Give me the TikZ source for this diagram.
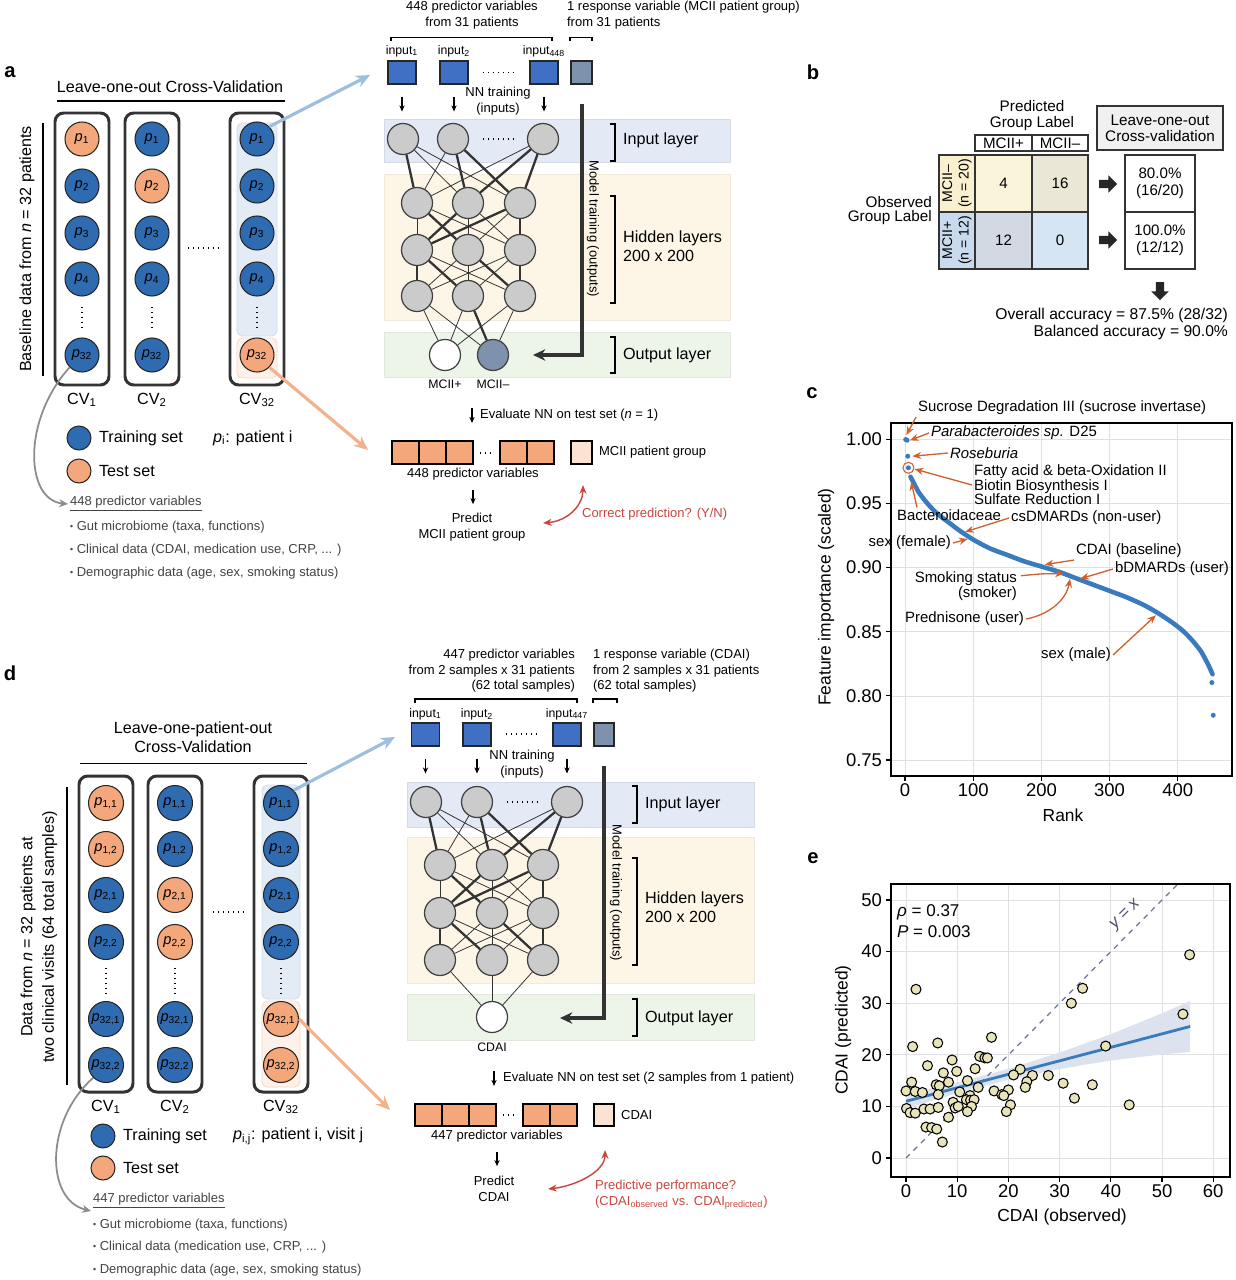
\documentclass[tikz,border=0pt]{standalone}
\usepackage{fontspec}
\setmainfont{Liberation Sans}
\usetikzlibrary{arrows.meta,shapes.arrows,calc}

\definecolor{trainblue}{HTML}{2F6BB1}
\definecolor{testorange}{HTML}{F3A77B}
\definecolor{sqblue}{HTML}{3F70C3}
\definecolor{respgray}{HTML}{7E91AD}
\definecolor{peach}{HTML}{FBE3D3}
\definecolor{nngray}{HTML}{CBCBCB}
\definecolor{bandblue}{HTML}{E3EAF6}
\definecolor{bandyellow}{HTML}{FDF6E6}
\definecolor{bandgreen}{HTML}{EDF4E8}
\definecolor{cvblue}{HTML}{E3EBF5}
\definecolor{cvorange}{HTML}{FDF1E9}
\definecolor{linkblue}{HTML}{9CBFE0}
\definecolor{linkorange}{HTML}{F2B28C}
\definecolor{evalred}{HTML}{C9463E}
\definecolor{annorange}{HTML}{D0602E}
\definecolor{plotblue}{HTML}{3A7BBD}
\definecolor{gridgray}{HTML}{E0E0E0}
\definecolor{dotfill}{HTML}{E8E4BA}
\definecolor{ciband}{HTML}{DDE3EE}
\definecolor{yxgray}{HTML}{6D7398}
\definecolor{cellyellow}{HTML}{F8F0CE}
\definecolor{cellpale}{HTML}{FAF4DA}
\definecolor{cellbeige}{HTML}{EBE7D6}
\definecolor{cellblue}{HTML}{CADAED}
\definecolor{cellslate}{HTML}{D3D9E3}
\definecolor{cellsky}{HTML}{D6E5F3}
\definecolor{textgray}{HTML}{444444}

\newcommand\fsz[2]{\fontsize{#1}{#2}\selectfont}
\newcommand\pvar[1]{\textit{p}\textsubscript{#1}}
\newcommand\bul{\raisebox{0.6pt}{\fsz{5}{6}\textbullet}\ }

\begin{document}
\begin{tikzpicture}[x=0.02cm, y=-0.02cm,
    txt/.style={font=\fsz{9.2}{10.6}, inner sep=1pt},
    small/.style={font=\fsz{7.4}{8.8}, inner sep=1pt},
    letter/.style={font=\fsz{11.5}{13}\bfseries, inner sep=0pt},
    patient/.style={circle, draw=black!85, line width=0.6pt, minimum size=0.68cm, inner sep=0pt, font=\fsz{8.3}{9}},
    train/.style={patient, fill=trainblue},
    test/.style={patient, fill=testorange},
    cvbox/.style={draw=black!80, line width=1.7pt, rounded corners=5pt},
    neuron/.style={circle, draw=black!75, fill=nngray, line width=0.7pt, minimum size=0.62cm, inner sep=0pt},
    invar/.style={draw=black!85, fill=sqblue, line width=0.6pt, minimum width=0.56cm, minimum height=0.46cm, inner sep=0pt},
    link/.style={line width=0.45pt, black!80},
    boldlink/.style={line width=1.3pt, black!80},
    downarr/.style={line width=0.6pt, -{Stealth[length=3.5pt, width=3pt]}},
    trainarr/.style={line width=2pt, black!80, -{Stealth[length=7pt, width=6.5pt]}},
    redarr/.style={evalred, line width=0.8pt, {Stealth[length=5pt, width=4pt]}-{Stealth[length=5pt, width=4pt]}},
    cell/.style={draw=black!80, line width=0.6pt, minimum width=1.14cm, minimum height=1.14cm, inner sep=0pt, font=\fsz{8.6}{9.5}},
    tb/.style={font=\fsz{8.7}{9.2}, inner sep=1pt},
    blockarr/.style={single arrow, fill=black!85, inner sep=2.2pt, minimum height=0.36cm, single arrow head extend=0.09cm, single arrow head indent=0pt},
    ann/.style={font=\fsz{8.5}{9.5}, inner sep=1pt},
    annarr/.style={annorange, line width=0.75pt, -{Stealth[length=5pt, width=4pt]}},
    ticklab/.style={font=\fsz{10.5}{12}, inner sep=1pt},
    axlab/.style={font=\fsz{9.9}{11}, inner sep=1pt},
    gridln/.style={gridgray, line width=0.5pt},
    bandbox/.style={line width=0.4pt},
  ]
\fill[white] (0,0) rectangle (1235,1280);
\useasboundingbox (0,0) rectangle (1235,1280);

%% ---------- a: leave-one-out scheme ----------
\node[letter] at (10,72) {a};
\node[txt] at (170,87) {Leave-one-out Cross-Validation};
\draw[line width=0.7pt] (57,101) -- (285,101);
\draw[line width=0.7pt] (43,123) -- (43,376);
\node[txt, rotate=90] at (27,249) {Baseline data from \textit{n} = 32 patients};
\filldraw[fill=cvblue, draw=linkblue!50, rounded corners=3pt, line width=0.5pt] (237,123) rectangle (277,336);
\filldraw[fill=cvorange, draw=linkorange!50, rounded corners=3pt, line width=0.5pt] (237,338) rectangle (277,378);
\foreach \col/\x/\tst/\cv in {1/82/1/1, 2/152/2/2, 3/257/5/32}{
  \draw[cvbox] (\x-27,113) rectangle (\x+27,385);
  \foreach \row/\y/\lab in {1/139/1, 2/186/2, 3/233/3, 4/279/4, 5/355/32}{
    \ifnum\row=\tst\relax \def\kind{test}\else \def\kind{train}\fi
    \node[\kind] (a\col-\row) at (\x,\y) {\pvar{\lab}};
  }
  \draw[dotted, line width=0.8pt] (\x,307) -- (\x,330);
  \node[txt] (acv\col) at (\x,400) {CV\textsubscript{\cv}};
}
\draw[dotted, line width=0.8pt] (188,248) -- (218,248);

\node[train, minimum size=0.48cm] (alegtr) at (79,438) {};
\node[txt, anchor=west] at (97,438) {Training set};
\node[txt, anchor=west] at (211,438) {\pvar{i}: patient i};
\node[test, minimum size=0.48cm] (alegts) at (79,471) {};
\node[txt, anchor=west] at (97,471) {Test set};

\node[small, anchor=west, textgray] (avarlist) at (68,504) {\underline{448 predictor variables}};
\node[small, anchor=west, textgray] at (68,527) {\bul Gut microbiome (taxa, functions)};
\node[small, anchor=west, textgray] at (68,550) {\bul Clinical data (CDAI, medication use, CRP, ... )};
\node[small, anchor=west, textgray] at (68,573) {\bul Demographic data (age, sex, smoking status)};
\draw[black!45, line width=1pt, -{Stealth[length=5pt, width=4.5pt]}] (a1-5.south west) .. controls (22,420) and (25,500) .. (avarlist.west);

\coordinate (ablue) at (370,75);
\coordinate (aorange) at (368,450);
\draw[linkblue, line width=1.8pt, -{Stealth[length=8pt, width=7pt]}] (a3-1.north east) -- (ablue);
\draw[linkorange, line width=1.8pt, -{Stealth[length=8pt, width=7pt]}] (a3-5.south east) -- (aorange);

%% ---------- a: network ----------
\node[small, align=center] at (472,15) {448 predictor variables\\from 31 patients};
\node[small, align=left, anchor=west] at (565,15) {1 response variable (MCII patient group)\\from 31 patients};
\draw[line width=0.6pt] (391,41) -- (391,37.5) -- (552,37.5) -- (552,41);
\draw[line width=0.6pt] (570,41) -- (570,37.5) -- (592,37.5) -- (592,41);
\foreach \k/\x/\s in {1/402/1, 2/454/2, 3/544/448}{
  \node[invar] (ain\k) at (\x,72.5) {};
  \node[small, font=\fsz{7}{8}] at (\x,51) {input\textsubscript{\s}};
  \draw[downarr] ($(ain\k.south)+(0,12)$) -- ++(0,15);
}
\node[invar, fill=respgray, minimum width=0.42cm] (aresp) at (581.5,72.5) {};
\draw[dotted, line width=0.8pt] (483,72.5) -- (513,72.5);
\node[small, align=center] at (498,101) {NN training\\(inputs)};

\filldraw[bandbox, fill=bandblue, draw=bandblue!85!gray] (384,119) rectangle (730,162);
\filldraw[bandbox, fill=bandyellow, draw=bandyellow!90!gray] (384,174) rectangle (730,320);
\filldraw[bandbox, fill=bandgreen, draw=bandgreen!90!gray] (384,332) rectangle (730,377);

\foreach \k/\x in {1/403, 2/453, 3/543} \node[neuron] (ani\k) at (\x,139) {};
\draw[dotted, line width=0.8pt] (483,139) -- (513,139);
\foreach \lay/\y in {1/203, 2/250, 3/296}
  \foreach \k/\x in {1/417, 2/468, 3/520}
    \node[neuron] (anh\lay\k) at (\x,\y) {};
\node[neuron, fill=white] (ano1) at (445,355) {};
\node[neuron, fill=respgray] (ano2) at (493,355) {};
\foreach \i in {1,2,3}{
  \foreach \j in {1,2,3}{
    \draw[link] (ani\i) -- (anh1\j);
    \draw[link] (anh1\i) -- (anh2\j);
    \draw[link] (anh2\i) -- (anh3\j);
  }
  \draw[link] (anh3\i) -- (ano1);
  \draw[link] (anh3\i) -- (ano2);
}
\foreach \p/\q in {ani1/anh11, ani2/anh12, ani2/anh13, ani3/anh13, ani3/anh12,
                   anh11/anh22, anh13/anh23, anh12/anh21, anh13/anh21,
                   anh21/anh31, anh23/anh33, anh21/anh32, anh22/anh33, anh32/ano2}
  \draw[boldlink] (\p) -- (\q);
\node[small, font=\fsz{7}{8}] at (445,384) {MCII+};
\node[small, font=\fsz{7}{8}] at (493,384) {MCII--};

\foreach \t/\b in {124/161, 196/303, 337/373}
  \draw[line width=0.8pt] (610,\t) -- (615,\t) -- (615,\b) -- (610,\b);
\node[txt, anchor=west] at (621,140) {Input layer};
\node[txt, anchor=west, align=left] at (621,246) {Hidden layers\\200 x 200};
\node[txt, anchor=west] at (621,355) {Output layer};

\coordinate (amt) at (582,104);
\coordinate (amtend) at (533,355);
\draw[trainarr] (amt) |- (amtend);
\node[small, rotate=-90] at (593,229) {Model training (outputs)};

\node[small, anchor=west] (aeval) at (478,415) {Evaluate NN on test set (\textit{n} = 1)};
\draw[downarr] ($(aeval.west)+(-6,-7)$) -- ++(0,15);
\foreach \x in {392,419,446,500,527}
  \draw[line width=0.7pt, fill=testorange] (\x,441) rectangle ++(27,23);
\draw[dotted, line width=0.8pt] (480,453) -- (494,453);
\node[draw, line width=0.7pt, fill=peach, minimum width=0.42cm, minimum height=0.46cm, inner sep=0pt] (aobs) at (581.5,452.5) {};
\node[small, anchor=west] at (597,452) {MCII patient group};
\node[small] (avars) at (473,474) {448 predictor variables};
\draw[downarr] ($(avars.south)+(0,8)$) -- ++(0,14);
\node[small, align=center] (apred) at (472,527) {Predict\\MCII patient group};
\coordinate (ared1) at (543,523);
\coordinate (ared2) at (583,485);
\draw[redarr] (ared1) .. controls (568,521) and (583,505) .. (ared2);
\node[small, anchor=west, evalred] at (580,514) {Correct prediction? (Y/N)};

%% ---------- b: confusion table ----------
\node[letter] at (813,72) {b};
\node[tb, align=center] at (1032,115.5) {Predicted\\Group Label};
\node[tb, align=right, anchor=east, font=\fsz{8.7}{7.8}] at (934,210.5) {Observed\\Group Label};
\node[cell, minimum height=0.32cm] (bh1) at (1003.5,143) {MCII+};
\node[cell, minimum height=0.32cm, minimum width=1.12cm] (bh2) at (1060,143) {MCII--};
\node[cell, fill=cellyellow, rotate=90, minimum height=0.72cm, align=center, font=\fsz{8}{9.4}] (br1) at (957,183.5) {MCII--\\(n = 20)};
\node[cell, fill=cellblue, rotate=90, minimum height=0.72cm, align=center, font=\fsz{8}{9.4}] (br2) at (957,240.5) {MCII+\\(n = 12)};
\node[cell, fill=cellpale] (b11) at (1003.5,183.5) {4};
\node[cell, fill=cellbeige, minimum width=1.12cm] (b12) at (1060,183.5) {16};
\node[cell, fill=cellslate] (b21) at (1003.5,240.5) {12};
\node[cell, fill=cellsky, minimum width=1.12cm] (b22) at (1060,240.5) {0};
\node[tb, draw=black!80, line width=0.9pt, fill=black!6, align=center, minimum width=2.52cm, minimum height=0.88cm] (bloo) at (1160,128) {Leave-one-out\\Cross-validation};
\node[cell, line width=0.9pt, minimum width=1.4cm, align=center] (bres1) at (1160,183.5) {80.0\%\\(16/20)};
\node[cell, line width=0.9pt, minimum width=1.4cm, align=center] (bres2) at (1160,240.5) {100.0\%\\(12/12)};
\node[blockarr] (barr1) at (1106,184) {};
\node[blockarr] (barr2) at (1106,240) {};
\node[blockarr, shape border rotate=270] (barr3) at (1160,289) {};
\node[tb, align=right, anchor=east, font=\fsz{8.9}{9.7}] at (1230,323.5) {Overall accuracy = 87.5\% (28/32)\\Balanced accuracy = 90.0\%};

%% ---------- c: feature importance ----------
\node[letter] at (812,393) {c};
\begin{scope}[shift={(905,1721.9)}, x=0.01364cm, y=25.652cm]
  \foreach \v in {0.75,0.8,0.85,0.9,0.95,1} \draw[gridln] (-20.5,\v) -- (479.5,\v);
  \foreach \r in {0,100,200,300,400} \draw[gridln] (\r,0.7375) -- (\r,1.0127);
  \draw[plotblue, line width=2.6pt, line cap=round, line join=round] plot[smooth] coordinates {
    (8,0.971) (12,0.967) (20,0.959) (30,0.952) (40,0.946) (50,0.941) (65,0.935) (80,0.929)
    (100,0.922) (125,0.915) (150,0.910) (175,0.905) (200,0.901) (225,0.897) (250,0.892)
    (275,0.887) (300,0.882) (325,0.877) (350,0.871) (370,0.865) (390,0.858) (405,0.852)
    (415,0.847) (425,0.841) (435,0.834) (445,0.824) (451,0.817)};
  \foreach \r/\v in {1/1.0, 3/0.9995, 4/0.987, 5/0.978, 450/0.8105, 452/0.785}
    \fill[plotblue] (\r,\v) circle[radius=0.05cm];
  \draw[annorange, line width=0.6pt] (5,0.978) circle[radius=0.11cm];
  \coordinate (tsuc) at (2,1.0035);
  \coordinate (tpar) at (7,0.9993);
  \coordinate (tros) at (11,0.987);
  \coordinate (tfat) at (14,0.977);
  \coordinate (tbac) at (9,0.967);
  \coordinate (tcs) at (88,0.928);
  \coordinate (tsf) at (92,0.9225);
  \coordinate (tcd) at (205,0.9025);
  \coordinate (tbd) at (257,0.8915);
  \coordinate (tsm) at (233,0.8955);
  \coordinate (tpr) at (242,0.8915);
  \coordinate (tsx) at (368,0.863);
\end{scope}
\draw[line width=0.9pt] (891,423) rectangle (1232,776);
\foreach \x/\r in {905/0, 973.2/100, 1041.4/200, 1109.6/300, 1177.8/400}{
  \draw[line width=0.6pt] (\x,776) -- (\x,781);
  \node[ticklab] at (\x,790) {\r};
}
\foreach \y/\v in {439.3/1.00, 503.4/0.95, 567.5/0.90, 631.7/0.85, 695.8/0.80, 760/0.75}{
  \draw[line width=0.6pt] (886,\y) -- (891,\y);
  \node[ticklab, anchor=east] at (884,\y) {\v};
}
\node[axlab] at (1063,815) {Rank};
\node[axlab, rotate=90] at (826,597) {Feature importance (scaled)};

\node[ann, anchor=west] (lsuc) at (916,408) {Sucrose Degradation III (sucrose invertase)};
\node[ann, anchor=west] (lpar) at (929,433) {\textit{Parabacteroides sp.} D25};
\node[ann, anchor=west] (lros) at (948,453) {\textit{Roseburia}};
\node[ann, anchor=west, align=left, font=\fsz{8.5}{8.2}] (lfat) at (972,485) {Fatty acid \& beta-Oxidation II\\Biotin Biosynthesis I\\Sulfate Reduction I};
\node[ann, anchor=west] (lbac) at (895,515) {Bacteroidaceae};
\node[ann, anchor=west] (lcs) at (1009,518) {csDMARDs (non-user)};
\node[ann, anchor=east] (lsf) at (953,543) {sex (female)};
\node[ann, anchor=west] (lcd) at (1074,551) {CDAI (baseline)};
\node[ann, anchor=west] (lbd) at (1113,569) {bDMARDs (user)};
\node[ann, anchor=east, align=right, font=\fsz{8.5}{8.2}] (lsm) at (1019,586) {Smoking status\\(smoker)};
\node[ann, anchor=east] (lpr) at (1026,619) {Prednisone (user)};
\node[ann, anchor=east] (lsx) at (1113,655) {sex (male)};
\draw[annarr] (lsuc.south west) -- (tsuc);
\draw[annarr] (lpar.west) -- (tpar);
\draw[annarr] (lros.west) -- (tros);
\draw[annarr] (lfat.west) -- (tfat);
\draw[annarr] ($(lbac.north west)+(22,0)$) -- (tbac);
\draw[annarr] (lcs.west) -- (tcs);
\draw[annarr] (lsf.east) -- (tsf);
\draw[annarr] (lcd.south west) -- (tcd);
\draw[annarr] (lbd.west) -- (tbd);
\draw[annarr] ($(lsm.north east)+(2,6)$) .. controls ($(lsm.north east)+(22,4)$) .. (tsm);
\draw[annarr] (lpr.east) .. controls ($(lpr.east)+(22,-4)$) and ($(tpr)+(-4,22)$) .. (tpr);
\draw[annarr] (lsx.east) -- (tsx);

%% ---------- d: leave-one-patient-out scheme ----------
\node[letter] at (10,673) {d};
\node[txt, align=center] at (193,737) {Leave-one-patient-out\\Cross-Validation};
\draw[line width=0.7pt] (80,763.6) -- (307,763.6);
\draw[line width=0.7pt] (67,787) -- (67,1085);
\node[txt, rotate=90, align=center, font=\fsz{9.2}{12.3}] at (39,937) {Data from \textit{n} = 32 patients at\\two clinical visits (64 total samples)};
\filldraw[fill=cvblue, draw=linkblue!50, rounded corners=3pt, line width=0.5pt] (262,785) rectangle (300,999);
\filldraw[fill=cvorange, draw=linkorange!50, rounded corners=3pt, line width=0.5pt] (262,1001) rectangle (300,1087);
\foreach \col/\x/\cv in {1/106/1, 2/175/2, 3/281/32}{
  \draw[cvbox] (\x-27,776) rectangle (\x+27,1092);
  \foreach \row/\y/\lab/\grp in {1/803/{1,1}/1, 2/849/{1,2}/1, 3/895/{2,1}/2, 4/942/{2,2}/2, 5/1019/{32,1}/3, 6/1065/{32,2}/3}{
    \ifnum\grp=\col\relax \def\kind{test}\else \def\kind{train}\fi
    \node[\kind, minimum size=0.7cm] (d\col-\row) at (\x,\y) {\pvar{\lab}};
  }
  \draw[dotted, line width=0.8pt] (\x,968) -- (\x,996);
  \node[txt] (dcv\col) at (\x,1107) {CV\textsubscript{\cv}};
}
\draw[dotted, line width=0.8pt] (213,912) -- (243,912);

\node[train, minimum size=0.48cm] (dlegtr) at (103,1136) {};
\node[txt, anchor=west] at (121,1136) {Training set};
\node[txt, anchor=west] at (231,1136) {\pvar{i,j}: patient i, visit j};
\node[test, minimum size=0.48cm] (dlegts) at (103,1168) {};
\node[txt, anchor=west] at (121,1168) {Test set};

\node[small, anchor=west, textgray] (dvarlist) at (91,1201) {\underline{447 predictor variables}};
\node[small, anchor=west, textgray] at (91,1225) {\bul Gut microbiome (taxa, functions)};
\node[small, anchor=west, textgray] at (91,1247) {\bul Clinical data (medication use, CRP, ... )};
\node[small, anchor=west, textgray] at (91,1270) {\bul Demographic data (age, sex, smoking status)};
\draw[black!45, line width=1pt, -{Stealth[length=5pt, width=4.5pt]}] (d1-6.south west) .. controls (45,1120) and (45,1200) .. (dvarlist.south west);

\coordinate (dblue) at (395,737);
\coordinate (dorange) at (390,1110);
\draw[linkblue, line width=1.8pt, -{Stealth[length=8pt, width=7pt]}] (d3-1.north east) -- (dblue);
\draw[linkorange, line width=1.8pt, -{Stealth[length=8pt, width=7pt]}] (d3-5.east) -- (dorange);

%% ---------- d: network ----------
\node[small, align=right, anchor=east] at (577,671) {447 predictor variables\\from 2 samples x 31 patients\\(62 total samples)};
\node[small, align=left, anchor=west] at (591,671) {1 response variable (CDAI)\\from 2 samples x 31 patients\\(62 total samples)};
\draw[line width=0.6pt] (415,703) -- (415,699) -- (577,699) -- (577,703);
\draw[line width=0.6pt] (593,703) -- (593,699) -- (617,699) -- (617,703);
\foreach \k/\x/\s in {1/425.5/1, 2/477/2, 3/567/447}{
  \node[invar] (din\k) at (\x,734.5) {};
  \node[small, font=\fsz{7}{8}] at (\x,714) {input\textsubscript{\s}};
  \draw[downarr] ($(din\k.south)+(0,12)$) -- ++(0,15);
}
\node[invar, fill=respgray, minimum width=0.4cm] (dresp) at (604,734.5) {};
\draw[dotted, line width=0.8pt] (506,734) -- (537,734);
\node[small, align=center] at (522,764) {NN training\\(inputs)};

\filldraw[bandbox, fill=bandblue, draw=bandblue!85!gray] (407,782) rectangle (754,827);
\filldraw[bandbox, fill=bandyellow, draw=bandyellow!90!gray] (407,837) rectangle (754,983);
\filldraw[bandbox, fill=bandgreen, draw=bandgreen!90!gray] (407,994) rectangle (754,1040);

\foreach \k/\x in {1/426, 2/477, 3/567} \node[neuron] (dni\k) at (\x,802) {};
\draw[dotted, line width=0.8pt] (507,802) -- (537,802);
\foreach \lay/\y in {1/865, 2/913, 3/960}
  \foreach \k/\x in {1/440, 2/492, 3/543}
    \node[neuron] (dnh\lay\k) at (\x,\y) {};
\node[neuron, fill=white] (dno) at (492,1017) {};
\foreach \i in {1,2,3}{
  \foreach \j in {1,2,3}{
    \draw[link] (dni\i) -- (dnh1\j);
    \draw[link] (dnh1\i) -- (dnh2\j);
    \draw[link] (dnh2\i) -- (dnh3\j);
  }
  \draw[link] (dnh3\i) -- (dno);
}
\foreach \p/\q in {dni1/dnh11, dni2/dnh12, dni2/dnh13, dni3/dnh13, dni3/dnh12,
                   dnh11/dnh22, dnh13/dnh23, dnh12/dnh21, dnh13/dnh21,
                   dnh21/dnh31, dnh23/dnh33, dnh21/dnh32, dnh22/dnh33}
  \draw[boldlink] (\p) -- (\q);
\node[small, font=\fsz{7}{8}] at (492,1047) {CDAI};

\foreach \t/\b in {786/823, 858/965, 999/1036}
  \draw[line width=0.8pt] (632,\t) -- (637,\t) -- (637,\b) -- (632,\b);
\node[txt, anchor=west] at (643,804) {Input layer};
\node[txt, anchor=west, align=left] at (643,907.5) {Hidden layers\\200 x 200};
\node[txt, anchor=west] at (643,1018) {Output layer};

\coordinate (dmt) at (604,766);
\coordinate (dmtend) at (560,1018);
\draw[trainarr] (dmt) |- (dmtend);
\node[small, rotate=-90] at (616,893) {Model training (outputs)};

\node[small, anchor=west] (deval) at (501,1078) {Evaluate NN on test set (2 samples from 1 patient)};
\draw[downarr] ($(deval.west)+(-7,-7)$) -- ++(0,15);
\foreach \x in {415,442,469,523,550}
  \draw[line width=0.7pt, fill=testorange] (\x,1104) rectangle ++(27,22);
\draw[dotted, line width=0.8pt] (503,1115) -- (517,1115);
\node[draw, line width=0.7pt, fill=peach, minimum width=0.4cm, minimum height=0.44cm, inner sep=0pt] (dobs) at (604,1115) {};
\node[small, anchor=west] at (619,1115) {CDAI};
\node[small] (dvars) at (497,1136) {447 predictor variables};
\draw[downarr] ($(dvars.south)+(0,8)$) -- ++(0,14);
\node[small, align=center] (dpred) at (494,1189) {Predict\\CDAI};
\coordinate (dred1) at (548,1189);
\coordinate (dred2) at (605,1150);
\draw[redarr] (dred1) .. controls (575,1186) and (605,1172) .. (dred2);
\node[small, anchor=west, evalred, align=left] at (593,1195) {Predictive performance?\\(CDAI\textsubscript{observed} vs. CDAI\textsubscript{predicted})};

%% ---------- e: observed vs predicted ----------
\node[letter] at (813,858) {e};
\begin{scope}[shift={(906,1158)}, x=0.1024cm, y=0.1032cm]
  \foreach \g in {0,10,...,60} \draw[gridln] (\g,-3.68) -- (\g,53.1);
  \foreach \g in {0,10,...,50} \draw[gridln] (-2.93,\g) -- (63.3,\g);
  \fill[ciband] (0,12.45) -- (5,13.50) -- (10,14.65) -- (14,15.66) -- (20,17.31) -- (30,20.43)
    -- (40,24.00) -- (50,28.05) -- (55.5,30.46) -- (55.5,20.54) -- (50,20.09) -- (40,18.90)
    -- (30,17.25) -- (20,15.15) -- (14,13.66) -- (10,12.57) -- (5,11.12) -- (0,9.55) -- cycle;
  \draw[yxgray, dashed, line width=0.7pt] (0,0) -- (53,53);
  \node[yxgray!70!black, rotate=45, font=\fsz{9.7}{11}\itshape, inner sep=0pt] (yxlab) at (42.9,47.1) {y\kern2.5pt=\kern2.5pt x};
  \draw[plotblue, line width=1.6pt] (0,11) -- (55.5,25.5);
  \foreach \px/\py in {55.4/39.4, 1.95/32.7, 34.5/32.9, 32.3/30.0, 54.1/27.9, 16.7/23.4, 6.2/22.3,
      1.3/21.6, 39.0/21.7, 14.4/19.7, 15.4/19.4, 15.9/19.4, 9.0/19.0, 4.2/17.9, 13.5/17.3,
      22.3/17.2, 9.9/16.8, 7.3/16.5, 21.0/16.1, 24.7/16.0, 27.8/16.0, 1.1/14.7, 8.3/14.7,
      12.0/15.0, 23.6/14.8, 30.7/14.5, 36.4/14.2, 5.9/14.2, 6.5/14.0, 23.3/13.7, 14.1/13.7,
      0/13.0, 1.8/12.9, 3.2/12.7, 6.3/12.3, 10.5/12.8, 17.2/13.0, 20.0/13.2, 12.5/12.1,
      18.7/12.3, 19.1/12.1, 11.8/11.3, 12.6/11.2, 13.3/11.3, 32.9/11.6, 9.2/10.8, 20.4/10.3,
      43.6/10.3, 0.1/9.6, 3.5/9.5, 4.7/9.5, 6.3/9.8, 9.6/9.7, 10.2/10.0, 12.8/10.0, 0.8/8.8,
      1.8/8.7, 12.0/9.0, 19.6/9.0, 8.3/7.9, 3.9/6.0, 5.0/5.9, 6.0/5.6, 7.1/3.1}
    \filldraw[fill=dotfill, draw=black, line width=0.6pt] (\px,\py) circle[radius=0.1cm];
\end{scope}
\draw[line width=0.9pt] (891,884) rectangle (1230,1177);
\foreach \x/\v in {906/0, 957.2/10, 1008.4/20, 1059.6/30, 1110.8/40, 1162/50, 1213.2/60}{
  \draw[line width=0.6pt] (\x,1177) -- (\x,1182);
  \node[ticklab] at (\x,1191) {\v};
}
\foreach \y/\v in {1158/0, 1106.4/10, 1054.8/20, 1003.2/30, 951.6/40, 900/50}{
  \draw[line width=0.6pt] (886,\y) -- (891,\y);
  \node[ticklab, anchor=east] at (884,\y) {\v};
}
\node[axlab, font=\fsz{9.9}{11}] at (1062,1217) {CDAI (observed)};
\node[axlab, rotate=90] at (843,1030) {CDAI (predicted)};
\node[axlab, anchor=west, font=\fsz{9.7}{11}] at (895,912) {\textit{ρ} = 0.37};
\node[axlab, anchor=west, font=\fsz{9.7}{11}] at (895,932) {\textit{P} = 0.003};
\end{tikzpicture}
\end{document}
